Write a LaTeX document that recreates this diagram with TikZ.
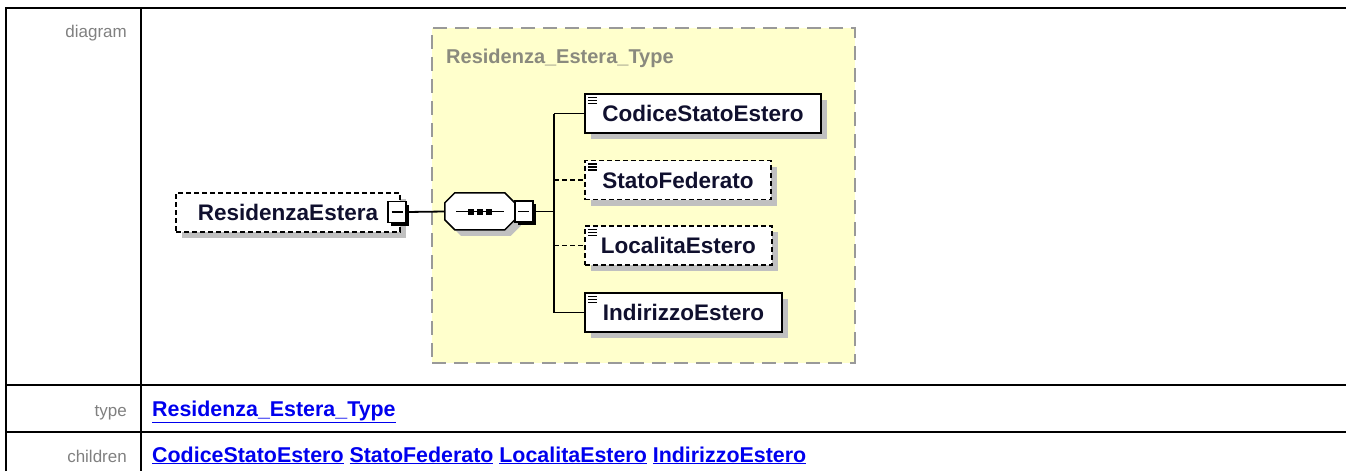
\documentclass[tikz,border=0pt]{standalone}
\usepackage{fontspec}
\setmainfont{Liberation Sans}
\usetikzlibrary{positioning,shadows}
\definecolor{XsdInk}{HTML}{10102E}
\definecolor{XsdShade}{HTML}{C0C0C0}
\definecolor{XsdYellow}{HTML}{FFFFCC}
\definecolor{XsdFrame}{HTML}{999999}
\definecolor{XsdLabel}{HTML}{808080}
\definecolor{XsdTitle}{HTML}{8A8A7E}
\definecolor{XsdLink}{HTML}{0000EE}

\begin{document}
\begin{tikzpicture}[x=1pt,y=-1pt,
    elembox/.style={draw=black,line width=1.8pt,fill=white,minimum height=39pt,inner sep=0pt,
      font=\fontsize{22.5}{26}\selectfont\bfseries,text=XsdInk,
      drop shadow={shadow xshift=6pt,shadow yshift=-6pt,fill=XsdShade,opacity=1}},
    optbox/.style={elembox,dash pattern=on 5pt off 3pt},
    leafbox/.style={path picture={
        \foreach \k in {0,1,2}
          \draw[solid,line width=1.2pt] ([xshift=3pt,yshift={-3.5pt-3pt*\k}]path picture bounding box.north west) -- ++(9,0);}},
    minusbox/.style={draw=black,line width=1.5pt,fill=white,minimum width=18pt,minimum height=21pt,inner sep=0pt,
      drop shadow={shadow xshift=3pt,shadow yshift=-3pt,fill=black,opacity=1},
      path picture={\draw[line width=1.2pt] ([xshift=-5.5pt]path picture bounding box.center) -- ([xshift=5.5pt]path picture bounding box.center);}},
    seqshape/.style={line width=1.5pt},
    wire/.style={line width=1.8pt},
    optwire/.style={wire,dash pattern=on 5pt off 3pt},
    rowlabel/.style={anchor=base east,inner sep=0pt,text=XsdLabel,font=\fontsize{17}{20}\selectfont},
    linktext/.style={anchor=base west,inner sep=0pt,text=XsdLink,font=\fontsize{21.4}{24}\selectfont\bfseries}
  ]
  \useasboundingbox (0,0) rectangle (1346,471);

  % table rules
  \draw[line width=2.5pt] (6,471) -- (6,8) -- (1346,8);
  \draw[line width=2.5pt] (141,8) -- (141,471);
  \draw[line width=2.5pt] (6,385) -- (1346,385);
  \draw[line width=2.5pt] (6,432) -- (1346,432);

  \node[rowlabel] (lbldiagram) at (127,37) {diagram};
  \node[rowlabel] (lbltype) at (127,416) {type};
  \node[rowlabel] (lblchildren) at (127,462) {children};

  % complex type frame
  \node[draw=XsdFrame,fill=XsdYellow,line width=2pt,dash pattern=on 14pt off 8pt,
    minimum width=423pt,minimum height=335pt,inner sep=0pt] (ctype) at (643.5,195.5) {};
  \node[anchor=base west,inner sep=0pt,text=XsdTitle,font=\fontsize{20}{24}\selectfont\bfseries]
    (ctitle) at (446,63) {Residenza\_Estera\_Type};

  % element and sequence
  \node[optbox,minimum width=224pt] (elem) at (288,212.5) {ResidenzaEstera};
  \node[minusbox] (m1) at (397,212) {};
  \node[minimum width=70pt,minimum height=37pt,inner sep=0pt] (seq) at (480,211.5) {};
  \fill[XsdShade] ([xshift=16pt,yshift=-6pt]seq.north west) -- ++(50,0) -- ++(10,10) -- ++(0,17)
    -- ++(-10,10) -- ++(-50,0) -- ++(-10,-10) -- ++(0,-17) -- cycle;
  \draw[seqshape,fill=white] ([xshift=10pt]seq.north west) -- ++(50,0) -- ++(10,10) -- ++(0,17)
    -- ++(-10,10) -- ++(-50,0) -- ++(-10,-10) -- ++(0,-17) -- cycle;
  \draw[seqshape] ([xshift=-24pt]seq.center) -- ([xshift=24pt]seq.center);
  \foreach \dx in {-9,0,9}
    \fill[black] ([xshift=\dx pt]seq.center) +(-3,-3) rectangle +(3,3);
  \node[minusbox,right=-1pt of seq] (m2) {};
  \coordinate (bus) at (554,0);

  % children
  \node[elembox,leafbox,minimum width=236pt,anchor=west] (c1) at (584,113.5) {CodiceStatoEstero};
  \node[optbox,leafbox,minimum width=186pt,anchor=west] (c2) at (584,180) {StatoFederato};
  \node[optbox,leafbox,minimum width=187pt,anchor=west] (c3) at (584,245.5) {LocalitaEstero};
  \node[elembox,leafbox,minimum width=197pt,anchor=west] (c4) at (584,312.5) {IndirizzoEstero};

  % connectors
  \draw[wire] (m1.east) -- (seq.west);
  \draw[wire] (m2.east) -- (m2.east -| bus);
  \draw[wire] (bus |- c1.west) -- (bus |- c4.west);
  \draw[wire] (bus |- c1.west) -- (c1.west);
  \draw[optwire] (bus |- c2.west) -- (c2.west);
  \draw[optwire] (bus |- c3.west) -- (c3.west);
  \draw[wire] (bus |- c4.west) -- (c4.west);

  % links
  \node[linktext] (lnktype) at (152,416) {\underline{Residenza\_Estera\_Type}};
  \node[linktext] (lnkchildren) at (152,462) {\underline{CodiceStatoEstero} \underline{StatoFederato} \underline{LocalitaEstero} \underline{IndirizzoEstero}};
\end{tikzpicture}
\end{document}
